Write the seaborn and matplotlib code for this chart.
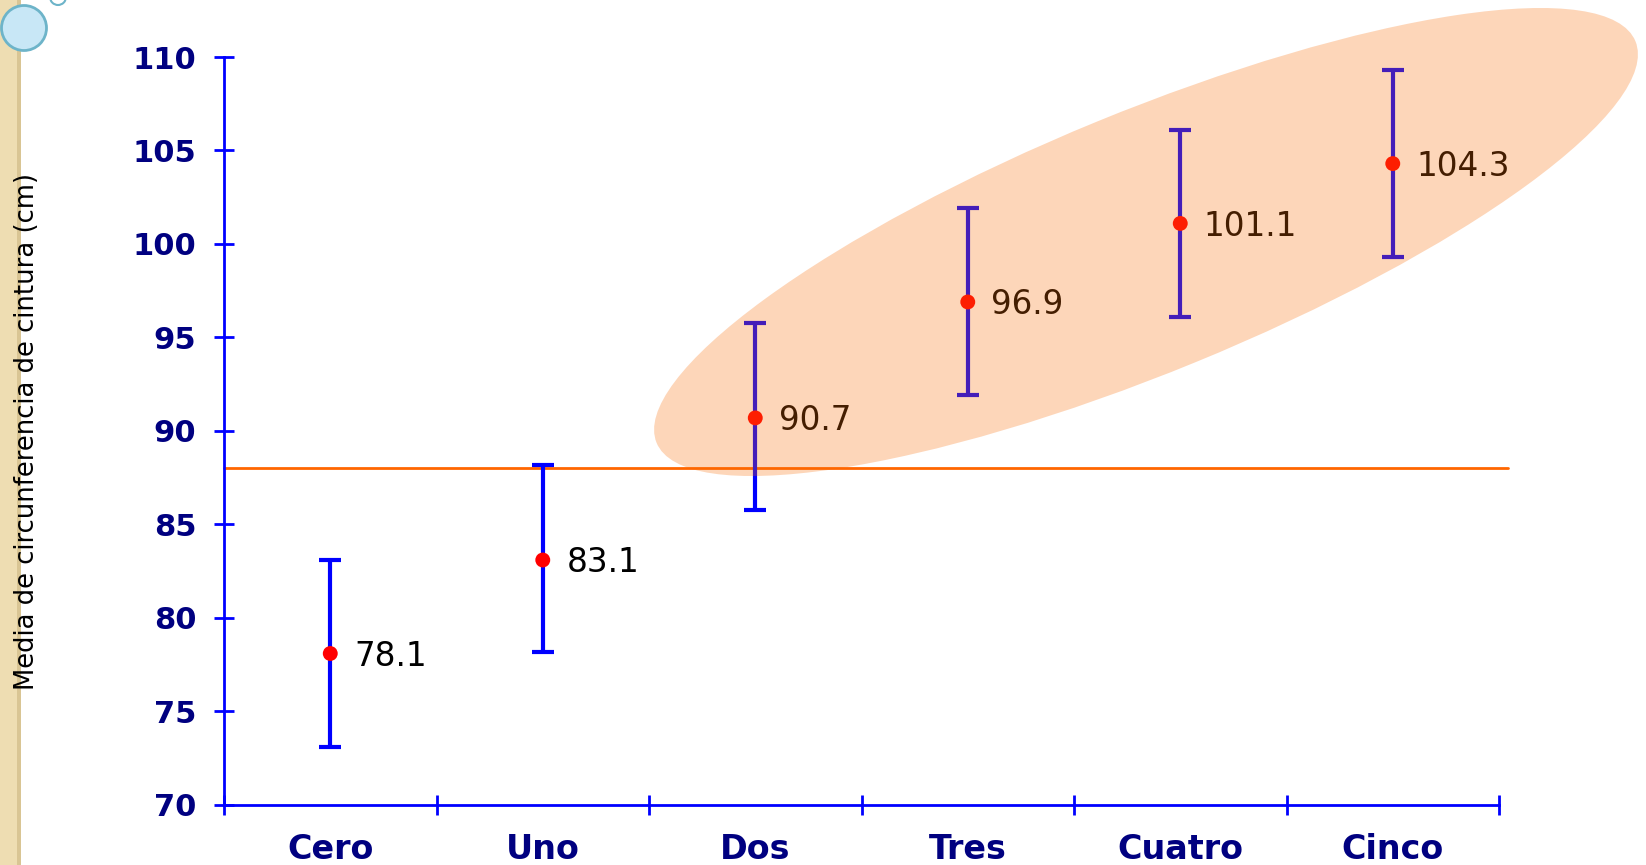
import matplotlib
matplotlib.use('Agg')
import matplotlib.pyplot as plt
from matplotlib.patches import Ellipse, Rectangle, Circle
import seaborn as sns
import pandas as pd

# data
grupos = ['Cero', 'Uno', 'Dos', 'Tres', 'Cuatro', 'Cinco']
medias = [78.1, 83.1, 90.7, 96.9, 101.1, 104.3]
limite_inf = [73.1, 78.2, 85.8, 91.9, 96.1, 99.3]
limite_sup = [83.1, 88.2, 95.8, 101.9, 106.1, 109.3]
y_ticks = [70, 75, 80, 85, 90, 95, 100, 105, 110]
corte = 88

df = pd.DataFrame({'grupo': grupos, 'media': medias,
                   'inf': limite_inf, 'sup': limite_sup})
df['pos'] = range(len(df))

sns.set_style('white')
plt.rcParams['font.family'] = ['DejaVu Sans']

azul = '#0000FF'
marino = '#000080'

fig = plt.figure(figsize=(16.46, 8.65), dpi=100)
ax = fig.add_axes([0.1361, 0.0694, 0.7746, 0.8647])

# error bars
ax.errorbar(df['pos'], df['media'],
            yerr=[df['media'] - df['inf'], df['sup'] - df['media']],
            fmt='none', ecolor=azul, elinewidth=3, capsize=8, capthick=3, zorder=2)
sns.scatterplot(data=df, x='pos', y='media', color='#FF0000', s=115,
                edgecolor='none', ax=ax, zorder=3, legend=False)

for p, m in zip(df['pos'], df['media']):
    ax.annotate('{:.1f}'.format(m), (p, m), xytext=(17, -2), textcoords='offset points',
                fontsize=23.5, color='black', va='center', ha='left', zorder=3)

# reference line
ax.axhline(corte, xmin=0, xmax=1.007, color='#FF6600', lw=2, clip_on=False, zorder=1)

ax.set_xlim(-0.5, 5.5)
ax.set_ylim(70, 110)
ax.set_yticks(y_ticks)
ax.set_xticks([i - 0.5 for i in range(len(grupos) + 1)])
ax.set_xticklabels([])
ax.set_xticks(range(len(grupos)), minor=True)
ax.set_xticklabels(grupos, minor=True)
ax.set_xlabel('')
ax.set_ylabel('')

for s in ['top', 'right']:
    ax.spines[s].set_visible(False)
for s in ['left', 'bottom']:
    ax.spines[s].set_color(azul)
    ax.spines[s].set_linewidth(2)

ax.tick_params(axis='both', which='major', direction='inout', length=14, width=2,
               color=azul, labelcolor=marino, bottom=True, left=True)
ax.tick_params(axis='y', labelsize=22, pad=13)
ax.tick_params(axis='x', which='minor', bottom=True, length=0, labelsize=24, pad=20,
               labelcolor=marino)
for t in ax.get_yticklabels() + ax.get_xticklabels(minor=True):
    t.set_fontweight('bold')

# highlight ellipse (figure inches)
ell = Ellipse((11.46, 6.23), 10.58, 2.60, angle=22.3, transform=fig.dpi_scale_trans,
              facecolor='#F86C05', edgecolor='none', alpha=0.28, zorder=10, clip_on=False)
ax.add_patch(ell)

fig.text(27 / 1646, 1 - 431 / 865, 'Media de circunferencia de cintura (cm)',
         rotation=90, ha='center', va='center', fontsize=18.6, color='black')

# left decoration
fig.patches.append(Rectangle((0, 0), 17 / 1646, 1, transform=fig.transFigure,
                             facecolor='#EEDDB2', edgecolor='none', zorder=0))
fig.patches.append(Rectangle((17 / 1646, 0), 4 / 1646, 1, transform=fig.transFigure,
                             facecolor='#D9C594', edgecolor='none', zorder=0))
fig.patches.append(Circle((0.24, 8.37), 0.225, transform=fig.dpi_scale_trans,
                          facecolor='#C8E7F6', edgecolor='#6DB4C9', lw=2, zorder=1))
fig.patches.append(Circle((0.58, 8.68), 0.08, transform=fig.dpi_scale_trans,
                          facecolor='none', edgecolor='#6DB4C9', lw=1.5, zorder=1))

fig.savefig('out.png', dpi=100)
